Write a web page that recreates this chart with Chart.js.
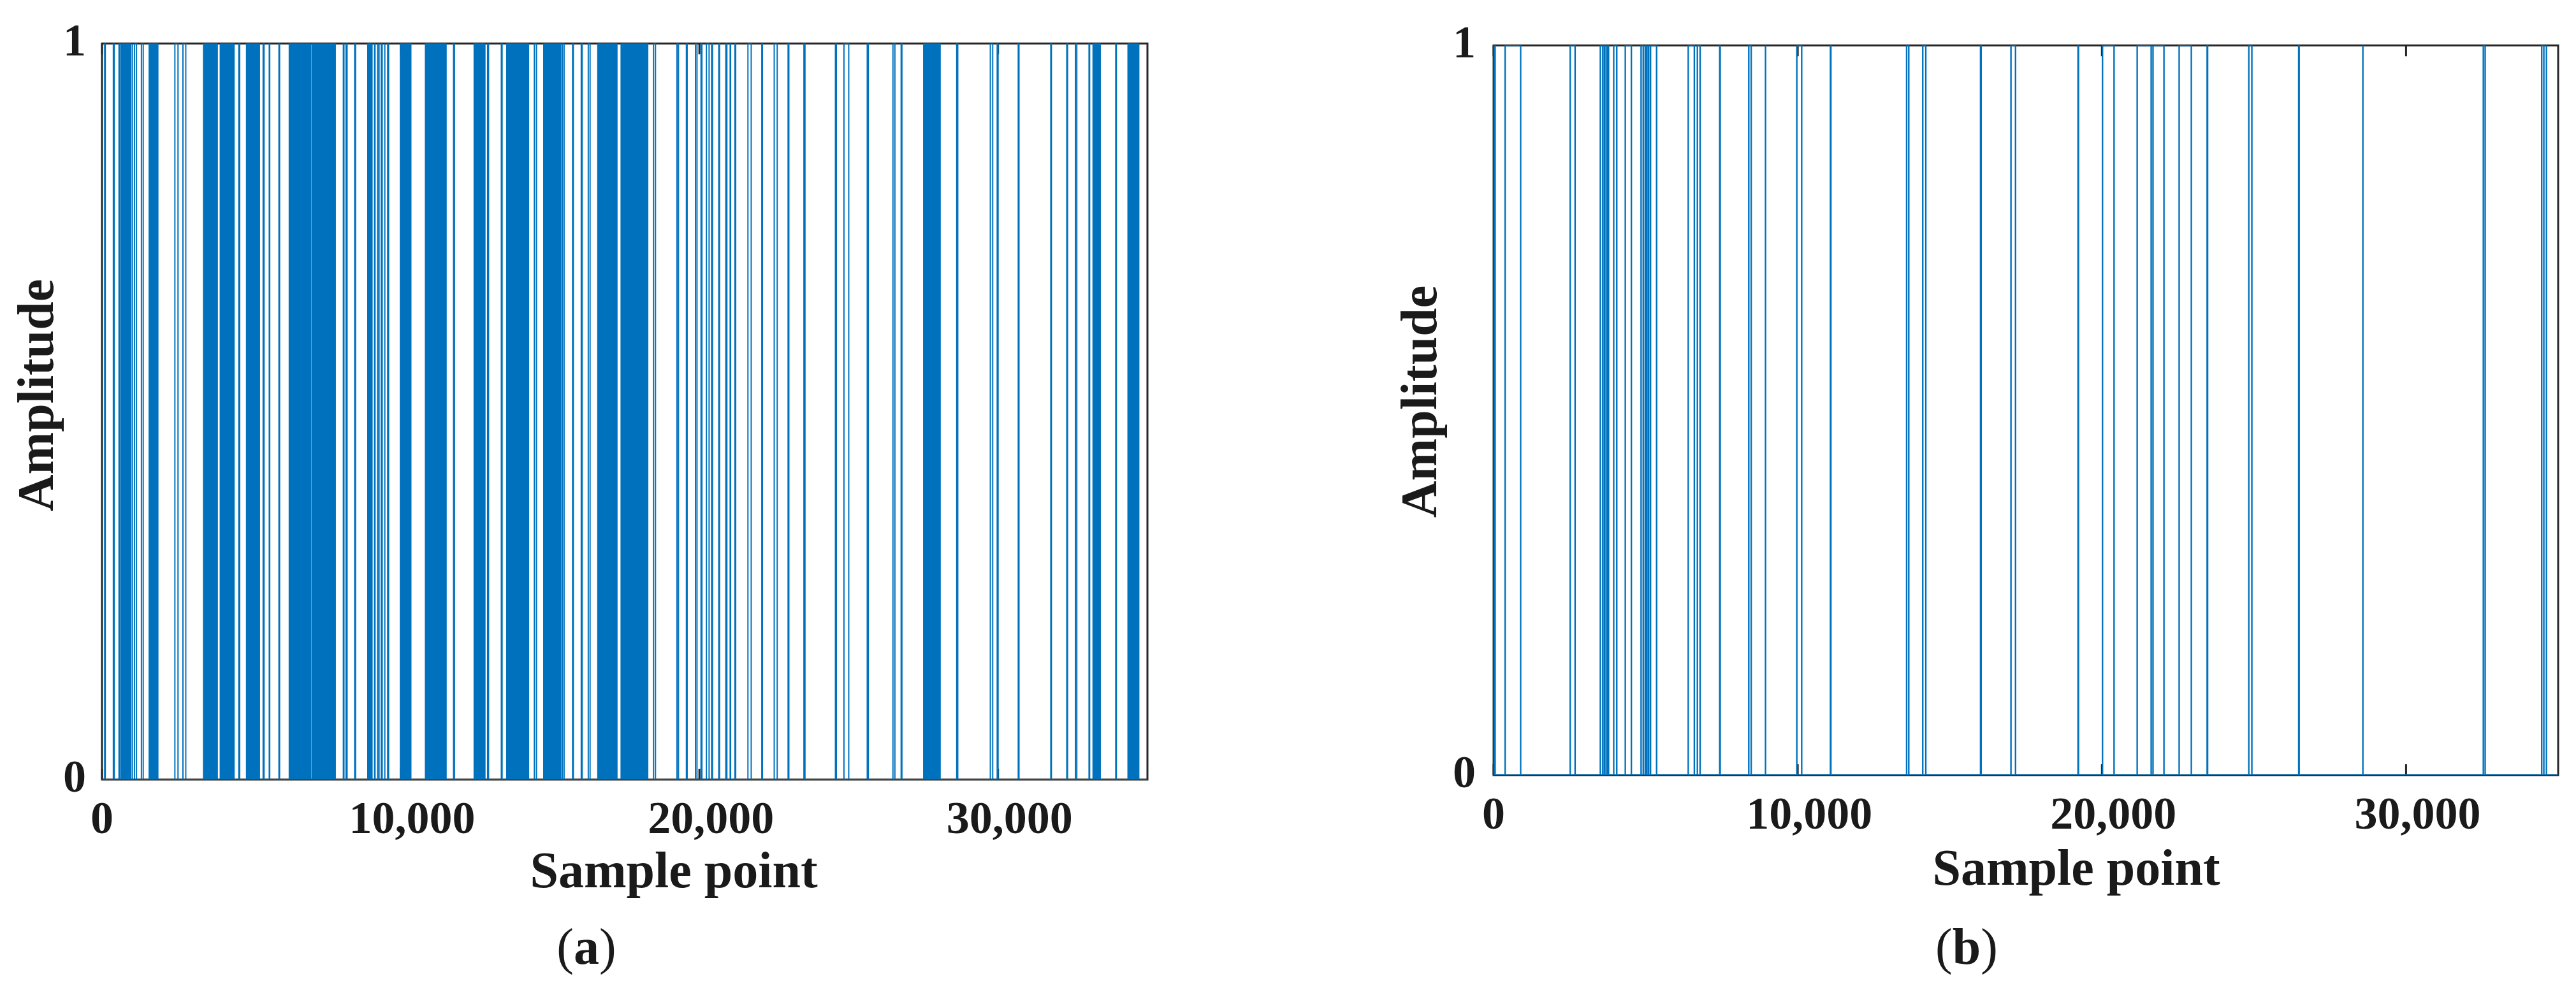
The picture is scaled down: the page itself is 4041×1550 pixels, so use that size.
<!DOCTYPE html>
<html>
<head>
<meta charset="utf-8">
<script src="https://cdn.jsdelivr.net/npm/chart.js@4.4.1/dist/chart.umd.min.js"></script>
<style>
  body { margin: 0; width: 4041px; height: 1550px; position: relative; overflow: hidden; background: #fff;
         font-family: "Liberation Serif", "Times New Roman", serif; color: #1a1a1a; }
  canvas { position: absolute; top: 0; }
  #chartA { left: 0; }
  #chartB { left: 1950px; }
  .lbl { position: absolute; font-size: 80px; line-height: 80px; height: 80px; white-space: nowrap; text-align: center; }
  .bold { font-weight: bold; }
  .rot { transform: rotate(-90deg); width: 400px; }
</style>
</head>
<body>
<canvas id="chartA" width="1900" height="1550"></canvas>
<canvas id="chartB" width="2091" height="1550"></canvas>

<div class="lbl bold rot" style="left:-144px; top:580px;">Amplitude</div>
<div class="lbl bold rot" style="left:2026px; top:590px;">Amplitude</div>
<div class="lbl bold" style="left:757px; top:1325px; width:600px;">Sample point</div>
<div class="lbl bold" style="left:2957px; top:1321px; width:600px;">Sample point</div>
<div class="lbl" style="left:820px; top:1445px; width:200px;">(<b>a</b>)</div>
<div class="lbl" style="left:2985px; top:1445px; width:200px;">(<b>b</b>)</div>

<script>
const xTicks = [0, 10000, 20000, 30000];
const yTicks = [0, 1];
const xMax = 35000;

// (a) dense parts where the signal toggles so fast it looks solid [start, end]
const burstsA = [
    [640, 960], [1580, 1870], [3400, 3860], [3960, 4240], [4270, 4420], [4840, 5270],
    [6270, 6990], [7040, 7550], [7590, 7810], [8900, 9040], [9990, 10340], [10830, 11520],
    [12460, 12820], [13550, 14280], [14790, 15360], [16600, 17240], [17380, 18270],
    [27510, 28060], [33180, 33420], [34350, 34710]
];
// (a) single pulses [start, end]
const pulsesA = [
    [90, 110], [380, 410], [570, 590], [1005, 1020], [1090, 1155], [1320, 1380],
    [2440, 2545], [2710, 2805], [4580, 4610], [5395, 5425], [5600, 5615], [5925, 5945],
    [8080, 8100], [8170, 8205], [8460, 8490], [9125, 9140], [9230, 9275], [9350, 9380],
    [9455, 9475], [9565, 9595], [11770, 11800], [12910, 12940], [13370, 13395],
    [14475, 14545], [15415, 15470], [15755, 15780], [16045, 16075], [16280, 16340],
    [18465, 18530], [19250, 19300], [19565, 19590], [19870, 19920], [20055, 20085],
    [20235, 20325], [20410, 20440], [20650, 20675], [20885, 20920], [21030, 21045],
    [21190, 21215], [21625, 21735], [22090, 22110], [22505, 22605], [22970, 22995],
    [23500, 23535], [24555, 24585], [24840, 25000], [25620, 25655], [26480, 26545],
    [26755, 26780], [28615, 28650], [29740, 29820], [29970, 30000], [30675, 30700],
    [31765, 31785], [32300, 32325], [32590, 32635], [33045, 33065], [33940, 33960]
];

// (b) pulses [start, end]
const burstsB = [];
const pulsesB = [
    [0, 50], [380, 890], [2520, 2680], [3510, 3590], [3645, 3700], [3755, 3780],
    [3950, 4050], [4330, 4530], [4850, 4920], [4985, 5025], [5080, 5100], [5160, 5360],
    [6400, 6600], [6700, 6790], [7435, 7450], [8390, 8470], [8930, 8945], [9970, 10130],
    [11075, 11090], [13580, 13650], [14110, 14210], [16010, 16030], [17010, 17160],
    [19215, 19230], [20020, 20400], [21160, 21620], [21680, 22040], [22540, 22940],
    [23460, 23475], [24830, 24930], [26470, 26485], [28570, 28585], [32540, 32600],
    [34460, 34530], [34605, 34620]
];

const blue = '#0072BD';
const axisCol = '#262626';
const tickFont = { family: '"Liberation Serif", "Times New Roman", serif', size: 72, weight: 'bold' };

function steps(list) {
    let pts = [{x: 0, y: 0}];
    list.forEach(function(p) {
        pts.push({x: p[0], y: 0}, {x: p[0], y: 1}, {x: p[1], y: 1}, {x: p[1], y: 0});
    });
    pts.push({x: xMax, y: 0});
    return pts;
}

// axes box with inward ticks, drawn under the signal like matlab does
const frame = {
    id: 'frame',
    beforeDatasetsDraw(chart) {
        const ctx = chart.ctx, a = chart.chartArea, x = chart.scales.x;
        ctx.save();
        ctx.strokeStyle = axisCol;
        ctx.lineWidth = 3;
        ctx.strokeRect(a.left, a.top, a.width, a.height);
        xTicks.forEach(function(v) {
            const px = x.getPixelForValue(v);
            ctx.beginPath();
            ctx.moveTo(px, a.bottom);
            ctx.lineTo(px, a.bottom - 17);
            ctx.moveTo(px, a.top);
            ctx.lineTo(px, a.top + 17);
            ctx.stroke();
        });
        ctx.restore();
    }
};

function makeChart(id, bursts, pulses, dims) {
    return new Chart(document.getElementById(id), {
        type: 'line',
        data: {
            datasets: [{
                data: steps(bursts),
                borderColor: blue,
                backgroundColor: blue,
                borderWidth: 2,
                fill: 'origin'
            }, {
                data: steps(pulses),
                borderColor: blue,
                borderWidth: dims.lw,
                fill: false
            }]
        },
        options: {
            responsive: false,
            animation: false,
            events: [],
            layout: { padding: { top: dims.top, right: dims.right, left: 0, bottom: 0 } },
            elements: { point: { radius: 0 }, line: { tension: 0 } },
            plugins: { legend: { display: false }, tooltip: { enabled: false } },
            scales: {
                x: {
                    type: 'linear',
                    min: 0,
                    max: xMax,
                    grid: { display: false, drawTicks: false },
                    border: { display: false },
                    afterBuildTicks: function(s) { s.ticks = xTicks.map(v => ({value: v})); },
                    afterFit: function(s) { s.height = dims.xh; },
                    ticks: {
                        font: tickFont,
                        color: '#1a1a1a',
                        padding: 22,
                        maxRotation: 0,
                        callback: function(v) { return v === 0 ? '0' : '\u2002' + v.toLocaleString('en-US'); }
                    }
                },
                y: {
                    min: 0,
                    max: 1,
                    grid: { display: false, drawTicks: false },
                    border: { display: false },
                    afterBuildTicks: function(s) { s.ticks = yTicks.map(v => ({value: v})); },
                    afterFit: function(s) { s.width = dims.yw; },
                    ticks: { font: tickFont, color: '#1a1a1a', padding: dims.ypad }
                }
            }
        },
        plugins: [frame]
    });
}

makeChart('chartA', burstsA, pulsesA, { top: 43, right: 100, xh: 327, yw: 160, ypad: 25, lw: 2 });
makeChart('chartB', burstsB, pulsesB, { top: 42, right: 28, xh: 334, yw: 393, ypad: 28, lw: 2.4 });
</script>
</body>
</html>
